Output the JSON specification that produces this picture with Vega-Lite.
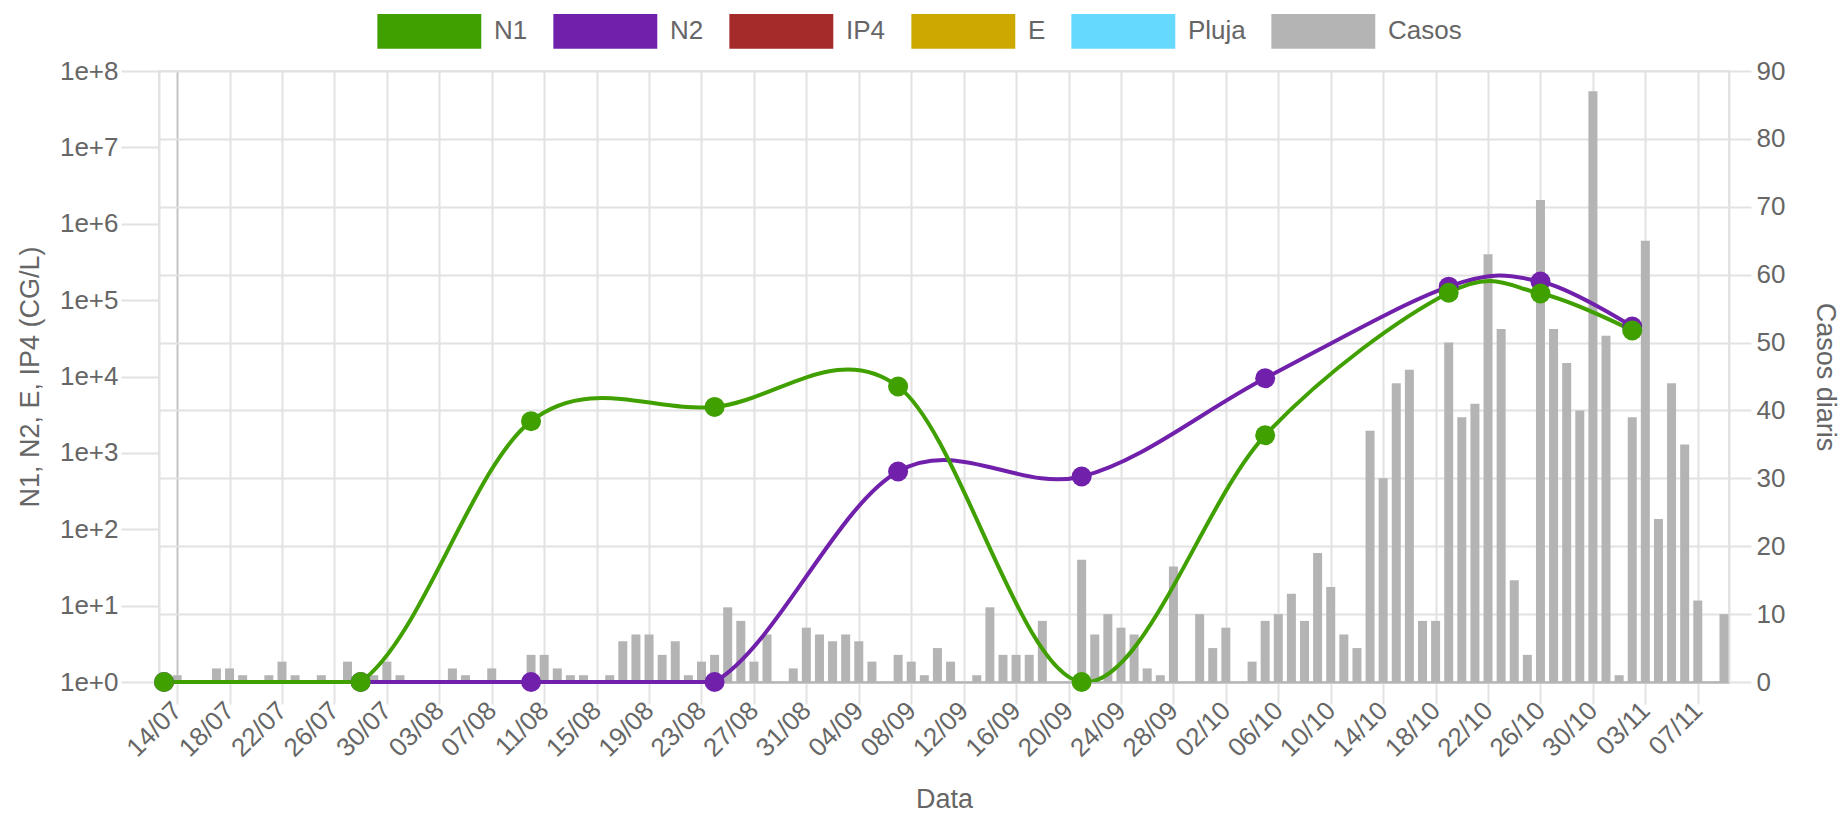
{
  "$schema": "https://vega.github.io/schema/vega-lite/v6.json",
  "width": 1570,
  "height": 611,
  "autosize": {"type": "none"},
  "padding": {"left": 159, "top": 71, "right": 119, "bottom": 135},
  "config": {
    "font": "Liberation Sans",
    "view": {"stroke": "#e2e2e2", "strokeWidth": 2},
    "axis": {
      "labelColor": "#666666",
      "titleColor": "#666666",
      "labelFont": "Liberation Sans",
      "titleFont": "Liberation Sans",
      "labelFontSize": 26,
      "titleFontSize": 27,
      "titleFontWeight": "normal",
      "gridColor": "#e2e2e2",
      "gridWidth": 2,
      "tickColor": "#e2e2e2",
      "tickWidth": 2,
      "tickSize": 22,
      "domainColor": "#e2e2e2",
      "domainWidth": 2
    },
    "legend": {
      "labelFont": "Liberation Sans",
      "labelFontSize": 26,
      "labelColor": "#666666",
      "padding": 0
    }
  },
  "datasets": {
    "casos": [
      {"data": "2020-07-13", "casos": 0},
      {"data": "2020-07-14", "casos": 1},
      {"data": "2020-07-15", "casos": 0},
      {"data": "2020-07-16", "casos": 0},
      {"data": "2020-07-17", "casos": 2},
      {"data": "2020-07-18", "casos": 2},
      {"data": "2020-07-19", "casos": 1},
      {"data": "2020-07-20", "casos": 0},
      {"data": "2020-07-21", "casos": 1},
      {"data": "2020-07-22", "casos": 3},
      {"data": "2020-07-23", "casos": 1},
      {"data": "2020-07-24", "casos": 0},
      {"data": "2020-07-25", "casos": 1},
      {"data": "2020-07-26", "casos": 0},
      {"data": "2020-07-27", "casos": 3},
      {"data": "2020-07-28", "casos": 0},
      {"data": "2020-07-29", "casos": 1},
      {"data": "2020-07-30", "casos": 3},
      {"data": "2020-07-31", "casos": 1},
      {"data": "2020-08-01", "casos": 0},
      {"data": "2020-08-02", "casos": 0},
      {"data": "2020-08-03", "casos": 0},
      {"data": "2020-08-04", "casos": 2},
      {"data": "2020-08-05", "casos": 1},
      {"data": "2020-08-06", "casos": 0},
      {"data": "2020-08-07", "casos": 2},
      {"data": "2020-08-08", "casos": 0},
      {"data": "2020-08-09", "casos": 0},
      {"data": "2020-08-10", "casos": 4},
      {"data": "2020-08-11", "casos": 4},
      {"data": "2020-08-12", "casos": 2},
      {"data": "2020-08-13", "casos": 1},
      {"data": "2020-08-14", "casos": 1},
      {"data": "2020-08-15", "casos": 0},
      {"data": "2020-08-16", "casos": 1},
      {"data": "2020-08-17", "casos": 6},
      {"data": "2020-08-18", "casos": 7},
      {"data": "2020-08-19", "casos": 7},
      {"data": "2020-08-20", "casos": 4},
      {"data": "2020-08-21", "casos": 6},
      {"data": "2020-08-22", "casos": 1},
      {"data": "2020-08-23", "casos": 3},
      {"data": "2020-08-24", "casos": 4},
      {"data": "2020-08-25", "casos": 11},
      {"data": "2020-08-26", "casos": 9},
      {"data": "2020-08-27", "casos": 3},
      {"data": "2020-08-28", "casos": 7},
      {"data": "2020-08-29", "casos": 0},
      {"data": "2020-08-30", "casos": 2},
      {"data": "2020-08-31", "casos": 8},
      {"data": "2020-09-01", "casos": 7},
      {"data": "2020-09-02", "casos": 6},
      {"data": "2020-09-03", "casos": 7},
      {"data": "2020-09-04", "casos": 6},
      {"data": "2020-09-05", "casos": 3},
      {"data": "2020-09-06", "casos": 0},
      {"data": "2020-09-07", "casos": 4},
      {"data": "2020-09-08", "casos": 3},
      {"data": "2020-09-09", "casos": 1},
      {"data": "2020-09-10", "casos": 5},
      {"data": "2020-09-11", "casos": 3},
      {"data": "2020-09-12", "casos": 0},
      {"data": "2020-09-13", "casos": 1},
      {"data": "2020-09-14", "casos": 11},
      {"data": "2020-09-15", "casos": 4},
      {"data": "2020-09-16", "casos": 4},
      {"data": "2020-09-17", "casos": 4},
      {"data": "2020-09-18", "casos": 9},
      {"data": "2020-09-19", "casos": 0},
      {"data": "2020-09-20", "casos": 0},
      {"data": "2020-09-21", "casos": 18},
      {"data": "2020-09-22", "casos": 7},
      {"data": "2020-09-23", "casos": 10},
      {"data": "2020-09-24", "casos": 8},
      {"data": "2020-09-25", "casos": 7},
      {"data": "2020-09-26", "casos": 2},
      {"data": "2020-09-27", "casos": 1},
      {"data": "2020-09-28", "casos": 17},
      {"data": "2020-09-29", "casos": 0},
      {"data": "2020-09-30", "casos": 10},
      {"data": "2020-10-01", "casos": 5},
      {"data": "2020-10-02", "casos": 8},
      {"data": "2020-10-03", "casos": 0},
      {"data": "2020-10-04", "casos": 3},
      {"data": "2020-10-05", "casos": 9},
      {"data": "2020-10-06", "casos": 10},
      {"data": "2020-10-07", "casos": 13},
      {"data": "2020-10-08", "casos": 9},
      {"data": "2020-10-09", "casos": 19},
      {"data": "2020-10-10", "casos": 14},
      {"data": "2020-10-11", "casos": 7},
      {"data": "2020-10-12", "casos": 5},
      {"data": "2020-10-13", "casos": 37},
      {"data": "2020-10-14", "casos": 30},
      {"data": "2020-10-15", "casos": 44},
      {"data": "2020-10-16", "casos": 46},
      {"data": "2020-10-17", "casos": 9},
      {"data": "2020-10-18", "casos": 9},
      {"data": "2020-10-19", "casos": 50},
      {"data": "2020-10-20", "casos": 39},
      {"data": "2020-10-21", "casos": 41},
      {"data": "2020-10-22", "casos": 63},
      {"data": "2020-10-23", "casos": 52},
      {"data": "2020-10-24", "casos": 15},
      {"data": "2020-10-25", "casos": 4},
      {"data": "2020-10-26", "casos": 71},
      {"data": "2020-10-27", "casos": 52},
      {"data": "2020-10-28", "casos": 47},
      {"data": "2020-10-29", "casos": 40},
      {"data": "2020-10-30", "casos": 87},
      {"data": "2020-10-31", "casos": 51},
      {"data": "2020-11-01", "casos": 1},
      {"data": "2020-11-02", "casos": 39},
      {"data": "2020-11-03", "casos": 65},
      {"data": "2020-11-04", "casos": 24},
      {"data": "2020-11-05", "casos": 44},
      {"data": "2020-11-06", "casos": 35},
      {"data": "2020-11-07", "casos": 12},
      {"data": "2020-11-08", "casos": 0},
      {"data": "2020-11-09", "casos": 10}
    ],
    "mostres": [
      {"data": "2020-07-13", "serie": "N2", "valor": 1},
      {"data": "2020-07-28", "serie": "N2", "valor": 1},
      {"data": "2020-08-10", "serie": "N2", "valor": 1},
      {"data": "2020-08-24", "serie": "N2", "valor": 1},
      {"data": "2020-09-07", "serie": "N2", "valor": 570},
      {"data": "2020-09-21", "serie": "N2", "valor": 490},
      {"data": "2020-10-05", "serie": "N2", "valor": 9500},
      {"data": "2020-10-19", "serie": "N2", "valor": 150000},
      {"data": "2020-10-26", "serie": "N2", "valor": 175000},
      {"data": "2020-11-02", "serie": "N2", "valor": 45000},
      {"data": "2020-07-13", "serie": "N1", "valor": 1},
      {"data": "2020-07-28", "serie": "N1", "valor": 1},
      {"data": "2020-08-10", "serie": "N1", "valor": 2600},
      {"data": "2020-08-24", "serie": "N1", "valor": 4000},
      {"data": "2020-09-07", "serie": "N1", "valor": 7400},
      {"data": "2020-09-21", "serie": "N1", "valor": 1},
      {"data": "2020-10-05", "serie": "N1", "valor": 1700},
      {"data": "2020-10-19", "serie": "N1", "valor": 125000},
      {"data": "2020-10-26", "serie": "N1", "valor": 122000},
      {"data": "2020-11-02", "serie": "N1", "valor": 40000}
    ]
  },
  "encoding": {
    "x": {
      "field": "data",
      "type": "temporal",
      "title": "Data",
      "scale": {
        "type": "utc",
        "domain": [
          {"year": 2020, "month": 7, "date": 13, "utc": true},
          {"year": 2020, "month": 11, "date": 9, "utc": true}
        ]
      },
      "axis": {
        "format": "%d/%m",
        "labelAngle": -45,
        "labelAlign": "right",
        "labelBaseline": "middle",
        "labelPadding": 2,
        "labelOverlap": false,
        "labelFlush": false,
        "titlePadding": 25,
        "domainColor": "#b5b5b5",
        "gridColor": {"condition": {"test": "datum.index === 0", "value": "#c4c4c4"}, "value": "#e2e2e2"},
        "values": [
          {"year": 2020, "month": 7, "date": 14, "utc": true},
          {"year": 2020, "month": 7, "date": 18, "utc": true},
          {"year": 2020, "month": 7, "date": 22, "utc": true},
          {"year": 2020, "month": 7, "date": 26, "utc": true},
          {"year": 2020, "month": 7, "date": 30, "utc": true},
          {"year": 2020, "month": 8, "date": 3, "utc": true},
          {"year": 2020, "month": 8, "date": 7, "utc": true},
          {"year": 2020, "month": 8, "date": 11, "utc": true},
          {"year": 2020, "month": 8, "date": 15, "utc": true},
          {"year": 2020, "month": 8, "date": 19, "utc": true},
          {"year": 2020, "month": 8, "date": 23, "utc": true},
          {"year": 2020, "month": 8, "date": 27, "utc": true},
          {"year": 2020, "month": 8, "date": 31, "utc": true},
          {"year": 2020, "month": 9, "date": 4, "utc": true},
          {"year": 2020, "month": 9, "date": 8, "utc": true},
          {"year": 2020, "month": 9, "date": 12, "utc": true},
          {"year": 2020, "month": 9, "date": 16, "utc": true},
          {"year": 2020, "month": 9, "date": 20, "utc": true},
          {"year": 2020, "month": 9, "date": 24, "utc": true},
          {"year": 2020, "month": 9, "date": 28, "utc": true},
          {"year": 2020, "month": 10, "date": 2, "utc": true},
          {"year": 2020, "month": 10, "date": 6, "utc": true},
          {"year": 2020, "month": 10, "date": 10, "utc": true},
          {"year": 2020, "month": 10, "date": 14, "utc": true},
          {"year": 2020, "month": 10, "date": 18, "utc": true},
          {"year": 2020, "month": 10, "date": 22, "utc": true},
          {"year": 2020, "month": 10, "date": 26, "utc": true},
          {"year": 2020, "month": 10, "date": 30, "utc": true},
          {"year": 2020, "month": 11, "date": 3, "utc": true},
          {"year": 2020, "month": 11, "date": 7, "utc": true}
        ]
      }
    }
  },
  "layer": [
    {
      "data": {"name": "casos"},
      "mark": {"type": "bar", "width": 9},
      "encoding": {
        "y": {
          "field": "casos",
          "type": "quantitative",
          "title": "Casos diaris",
          "scale": {"domain": [0, 90], "nice": false},
          "axis": {
            "orient": "right",
            "values": [0, 10, 20, 30, 40, 50, 60, 70, 80, 90],
            "labelPadding": 5,
            "titlePadding": 26,
            "gridColor": {"condition": {"test": "datum.value === 0", "value": "#b5b5b5"}, "value": "#e2e2e2"}
          }
        },
        "color": {
          "datum": "Casos",
          "type": "nominal",
          "scale": {
            "domain": ["N1", "N2", "IP4", "E", "Pluja", "Casos"],
            "range": ["#40a000", "#7020aa", "#a52a2a", "#cca800", "#66d9ff", "#b4b4b4"]
          },
          "legend": {
            "orient": "none",
            "legendX": 218,
            "legendY": -75,
            "direction": "horizontal",
            "columns": 6,
            "title": null,
            "symbolType": "M-1,-0.5H2V0.5H-1Z",
            "symbolSize": 4800,
            "symbolStrokeWidth": 0,
            "labelOffset": 47,
            "columnPadding": 25,
            "encode": {
              "symbols": {
                "update": {
                  "fill": {"scale": "color", "field": "value"},
                  "opacity": {"value": 1}
                }
              }
            }
          }
        }
      }
    },
    {
      "data": {"name": "mostres"},
      "encoding": {
        "y": {
          "field": "valor",
          "type": "quantitative",
          "title": "N1, N2, E, IP4 (CG/L)",
          "scale": {"type": "log", "domain": [1, 100000000], "nice": false},
          "axis": {
            "orient": "left",
            "values": [1, 10, 100, 1000, 10000, 100000, 1000000, 10000000, 100000000],
            "labelExpr": "'1e+' + round(log(datum.value) / LN10)",
            "tickSize": 38,
            "labelPadding": 3,
            "titlePadding": 15,
            "gridColor": {"condition": {"test": "datum.value === 1", "value": "#c4c4c4"}, "value": "#e2e2e2"}
          }
        },
        "color": {"field": "serie", "type": "nominal", "legend": null}
      },
      "layer": [
        {
          "transform": [{"filter": "datum.serie === 'N2' && time(datum.data) <= utc(2020, 7, 24)"}],
          "mark": {"type": "line", "interpolate": "linear", "strokeWidth": 4}
        },
        {
          "transform": [{"filter": "datum.serie === 'N2'"}],
          "mark": {"type": "line", "interpolate": "cardinal", "strokeWidth": 4, "clip": true}
        },
        {
          "transform": [{"filter": "datum.serie === 'N1' && time(datum.data) <= utc(2020, 6, 28)"}],
          "mark": {"type": "line", "interpolate": "linear", "strokeWidth": 4}
        },
        {
          "transform": [{"filter": "datum.serie === 'N1'"}],
          "mark": {"type": "line", "interpolate": "cardinal", "strokeWidth": 4, "clip": true}
        },
        {"mark": {"type": "point", "filled": true, "size": 400, "opacity": 1}}
      ]
    }
  ],
  "resolve": {"scale": {"y": "independent"}}
}
